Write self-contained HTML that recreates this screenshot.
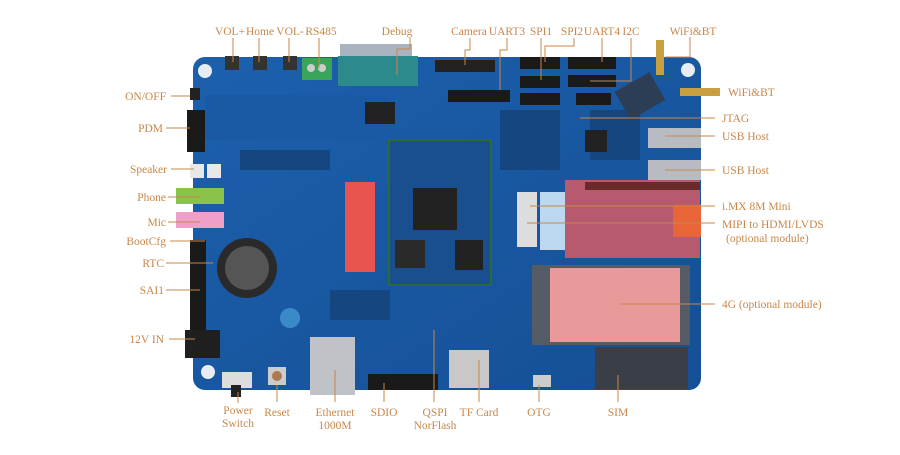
<!DOCTYPE html>
<html><head><meta charset="utf-8"><style>
html,body{margin:0;padding:0;background:#fff;}
svg text{font-family:"Liberation Serif",serif;font-size:11.5px;fill:#c8874a;}
</style></head><body>
<svg width="900" height="450" viewBox="0 0 900 450" xmlns="http://www.w3.org/2000/svg">
<defs>
<linearGradient id="bd" x1="0" y1="0" x2="1" y2="1"><stop offset="0" stop-color="#1c60ad"/><stop offset="1" stop-color="#154f95"/></linearGradient>
</defs>
<rect x="0" y="0" width="900" height="450" fill="#fff"/>
<rect x="193" y="57" width="508" height="333" rx="12" fill="url(#bd)"/>
<circle cx="205" cy="71" r="7" fill="#e8edf3"/>
<circle cx="688" cy="70" r="7" fill="#e8edf3"/>
<circle cx="208" cy="372" r="7" fill="#e8edf3"/>
<rect x="205" y="95" width="185" height="45" fill="#1a5aa4"/>
<g fill="#15467f">
<rect x="240" y="150" width="90" height="20"/><rect x="500" y="110" width="60" height="60"/><rect x="330" y="290" width="60" height="30"/><rect x="590" y="110" width="50" height="50"/>
</g>
<rect x="225" y="56" width="14" height="14" fill="#333"/><rect x="253" y="56" width="14" height="14" fill="#333"/><rect x="283" y="56" width="14" height="14" fill="#333"/>
<rect x="302" y="58" width="30" height="22" fill="#3aa55a"/>
<circle cx="311" cy="68" r="4" fill="#ccc"/><circle cx="322" cy="68" r="4" fill="#ccc"/>
<rect x="340" y="44" width="72" height="14" fill="#aab4c0"/>
<rect x="338" y="56" width="80" height="30" fill="#2c8a8c"/>
<rect x="435" y="60" width="60" height="12" fill="#222"/>
<rect x="520" y="57" width="40" height="12" fill="#1a1a1a"/>
<rect x="520" y="76" width="40" height="12" fill="#1a1a1a"/>
<rect x="520" y="93" width="40" height="12" fill="#1a1a1a"/>
<rect x="568" y="57" width="48" height="12" fill="#1a1a1a"/>
<rect x="568" y="75" width="48" height="12" fill="#1a1a1a"/>
<rect x="576" y="93" width="35" height="12" fill="#1a1a1a"/>
<rect x="448" y="90" width="62" height="12" fill="#1a1a1a"/>
<rect x="365" y="102" width="30" height="22" fill="#222"/>
<rect x="585" y="130" width="22" height="22" fill="#222"/>
<rect x="620" y="80" width="40" height="32" fill="#2c3e55" transform="rotate(-30 640 96)"/>
<rect x="656" y="40" width="8" height="35" fill="#c9a040"/>
<rect x="680" y="88" width="40" height="8" fill="#c9a040"/>
<rect x="648" y="128" width="53" height="20" fill="#b8bcc2"/>
<rect x="648" y="160" width="53" height="20" fill="#b8bcc2"/>
<rect x="190" y="88" width="10" height="12" fill="#222"/>
<rect x="187" y="110" width="18" height="42" fill="#1a1a1a"/>
<rect x="190" y="164" width="14" height="14" fill="#e8e8e8"/><rect x="207" y="164" width="14" height="14" fill="#e8e8e8"/>
<rect x="176" y="188" width="48" height="16" fill="#8bc34a"/>
<rect x="176" y="212" width="48" height="16" fill="#f0a0c8"/>
<rect x="190" y="240" width="16" height="95" fill="#1a1a1a"/>
<circle cx="247" cy="268" r="30" fill="#2a2a2a"/><circle cx="247" cy="268" r="22" fill="#555"/>
<rect x="345" y="182" width="30" height="90" fill="#e85550"/>
<circle cx="290" cy="318" r="10" fill="#3a8ac8"/>
<rect x="185" y="330" width="35" height="28" fill="#1f1f1f"/>
<rect x="222" y="372" width="30" height="16" fill="#ddd"/><rect x="231" y="385" width="10" height="12" fill="#222"/>
<rect x="268" y="367" width="18" height="18" fill="#ccc"/><circle cx="277" cy="376" r="5" fill="#b07850"/>
<rect x="310" y="337" width="45" height="58" fill="#bfc2c6"/>
<rect x="368" y="374" width="70" height="16" fill="#1a1a1a"/>
<rect x="389" y="140" width="102" height="145" fill="#1a4f8f" stroke="#2d6a3a" stroke-width="2"/>
<rect x="413" y="188" width="44" height="42" fill="#222"/>
<rect x="455" y="240" width="28" height="30" fill="#222"/>
<rect x="395" y="240" width="30" height="28" fill="#2a2a2a"/>
<rect x="449" y="350" width="40" height="38" fill="#c8c8c8"/>
<rect x="533" y="375" width="18" height="12" fill="#ccc"/>
<rect x="517" y="192" width="20" height="55" fill="#ddd"/><rect x="540" y="192" width="28" height="58" fill="#bcd8f0"/>
<rect x="565" y="180" width="135" height="78" fill="#b85a6e"/>
<rect x="585" y="182" width="115" height="8" fill="#6a2a2a"/>
<rect x="673" y="205" width="28" height="32" fill="#e8653a"/>
<rect x="532" y="265" width="158" height="80" fill="#555c66"/>
<rect x="550" y="268" width="130" height="74" fill="#e89a9a"/>
<rect x="595" y="347" width="93" height="42" fill="#3a3e46"/>
<g stroke="#c8874a" stroke-width="1" fill="none">
<path d="M233 38V62M259 38V62M289 38V62M319 38V68M410 38V49H397V75"/>
<path d="M470 38V50H465V65M507 38V50H500V90M541 38V80M574 38V46H545V62M602 38V62M631 38V81H590M690 37V57H665"/>
<path d="M171 96H190M166 128H190M171 169H194M168 197H200M168 222H200M170 241H205M166 263H213M166 290H200M169 339H195"/>
<path d="M718 92H712M715 118H580M715 136H665M715 170H665M715 206H530M715 223H527M715 304H620"/>
<path d="M238 392V403M277 385V402M335 370V402M384 383V402M434 330V402M479 360V402M539 385V402M618 375V402"/>
</g>
<text x="230" y="35" text-anchor="middle">VOL+</text>
<text x="260" y="35" text-anchor="middle">Home</text>
<text x="290" y="35" text-anchor="middle">VOL-</text>
<text x="321" y="35" text-anchor="middle">RS485</text>
<text x="397" y="35" text-anchor="middle">Debug</text>
<text x="469" y="35" text-anchor="middle">Camera</text>
<text x="507" y="35" text-anchor="middle">UART3</text>
<text x="541" y="35" text-anchor="middle">SPI1</text>
<text x="572" y="35" text-anchor="middle">SPI2</text>
<text x="602" y="35" text-anchor="middle">UART4</text>
<text x="631" y="35" text-anchor="middle">I2C</text>
<text x="693" y="35" text-anchor="middle">WiFi&amp;BT</text>
<text x="166" y="100" text-anchor="end">ON/OFF</text>
<text x="163" y="132" text-anchor="end">PDM</text>
<text x="167" y="173" text-anchor="end">Speaker</text>
<text x="166" y="201" text-anchor="end">Phone</text>
<text x="166" y="226" text-anchor="end">Mic</text>
<text x="166" y="245" text-anchor="end">BootCfg</text>
<text x="164" y="267" text-anchor="end">RTC</text>
<text x="164" y="294" text-anchor="end">SAI1</text>
<text x="164" y="343" text-anchor="end">12V IN</text>
<text x="728" y="96">WiFi&amp;BT</text>
<text x="722" y="122">JTAG</text>
<text x="722" y="140">USB Host</text>
<text x="722" y="174">USB Host</text>
<text x="722" y="210">i.MX 8M Mini</text>
<text x="722" y="228">MIPI to HDMI/LVDS</text>
<text x="726" y="242">(optional module)</text>
<text x="722" y="308">4G (optional module)</text>
<text x="238" y="414" text-anchor="middle">Power</text>
<text x="238" y="427" text-anchor="middle">Switch</text>
<text x="277" y="416" text-anchor="middle">Reset</text>
<text x="335" y="416" text-anchor="middle">Ethernet</text>
<text x="335" y="429" text-anchor="middle">1000M</text>
<text x="384" y="416" text-anchor="middle">SDIO</text>
<text x="435" y="416" text-anchor="middle">QSPI</text>
<text x="435" y="429" text-anchor="middle">NorFlash</text>
<text x="479" y="416" text-anchor="middle">TF Card</text>
<text x="539" y="416" text-anchor="middle">OTG</text>
<text x="618" y="416" text-anchor="middle">SIM</text>
</svg>
</body></html>
